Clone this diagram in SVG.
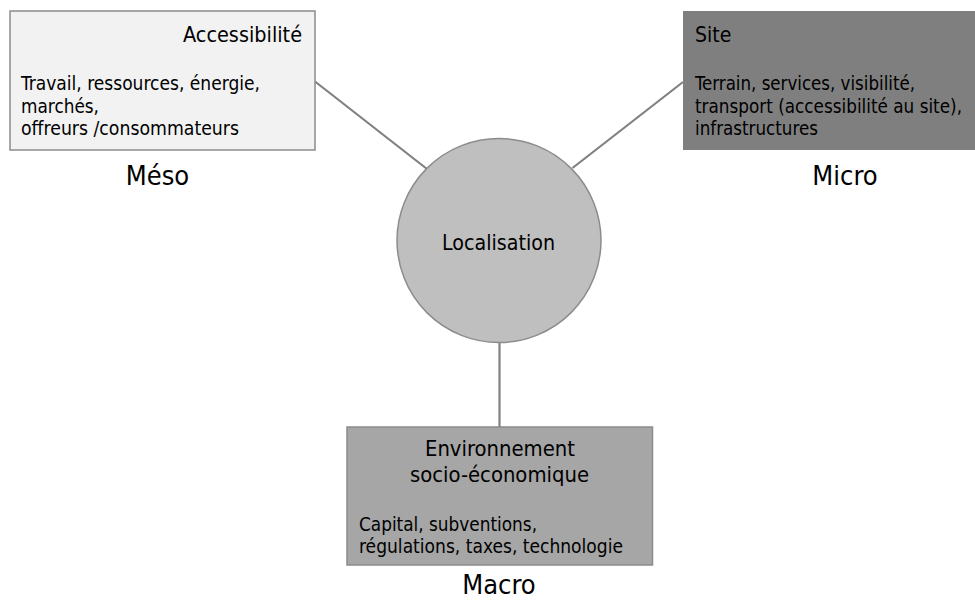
<svg xmlns="http://www.w3.org/2000/svg" width="975" height="601" viewBox="0 0 975 601">
<style>
text{font-family:"DejaVu Sans Condensed","DejaVu Sans","Liberation Sans",sans-serif;fill:#000}
.t{font-size:21px}
.b{font-size:19.5px}
.L{font-size:27px}
.conn line{stroke:#808080;stroke-width:2.2}
</style>
<rect width="975" height="601" fill="#fff"/>
<g class="conn" id="connectors">
<line x1="315" y1="81.5" x2="427" y2="169"/>
<line x1="683" y1="82" x2="572.5" y2="168"/>
<line x1="499.5" y1="342" x2="499.5" y2="427"/>
</g>
<g id="meso">
<rect x="10" y="11" width="305" height="139" fill="#f2f2f2" stroke="#8c8c8c" stroke-width="1.5"/>
<text class="t" x="302" y="42" text-anchor="end" textLength="119" lengthAdjust="spacingAndGlyphs">Accessibilité</text>
<text class="b" x="21" y="90" textLength="239" lengthAdjust="spacingAndGlyphs">Travail, ressources, énergie,</text>
<text class="b" x="21" y="112.5" textLength="78" lengthAdjust="spacingAndGlyphs">marchés,</text>
<text class="b" x="21" y="135" textLength="218" lengthAdjust="spacingAndGlyphs">offreurs /consommateurs</text>
<text class="L" x="157.5" y="185" text-anchor="middle">Méso</text>
</g>
<g id="micro">
<rect x="683" y="11" width="292" height="139" fill="#7f7f7f"/>
<text class="t" x="695" y="42">Site</text>
<text class="b" x="695" y="90" textLength="220" lengthAdjust="spacingAndGlyphs">Terrain, services, visibilité,</text>
<text class="b" x="695" y="112.5" textLength="267" lengthAdjust="spacingAndGlyphs">transport (accessibilité au site),</text>
<text class="b" x="695" y="135" textLength="123" lengthAdjust="spacingAndGlyphs">infrastructures</text>
<text class="L" x="845" y="185" text-anchor="middle">Micro</text>
</g>
<g id="localisation">
<circle cx="499" cy="240.5" r="102" fill="#bfbfbf" stroke="#8c8c8c" stroke-width="1.5"/>
<text class="t" x="498.5" y="250" text-anchor="middle" textLength="113" lengthAdjust="spacingAndGlyphs">Localisation</text>
</g>
<g id="macro">
<rect x="347" y="427" width="305.5" height="138" fill="#a6a6a6" stroke="#8c8c8c" stroke-width="1.5"/>
<text class="t" x="500" y="456" text-anchor="middle" textLength="150" lengthAdjust="spacingAndGlyphs">Environnement</text>
<text class="t" x="499.5" y="482" text-anchor="middle" textLength="179" lengthAdjust="spacingAndGlyphs">socio-économique</text>
<text class="b" x="359" y="531" textLength="178" lengthAdjust="spacingAndGlyphs">Capital, subventions,</text>
<text class="b" x="359" y="553" textLength="264" lengthAdjust="spacingAndGlyphs">régulations, taxes, technologie</text>
<text class="L" x="499" y="594" text-anchor="middle">Macro</text>
</g>
</svg>
